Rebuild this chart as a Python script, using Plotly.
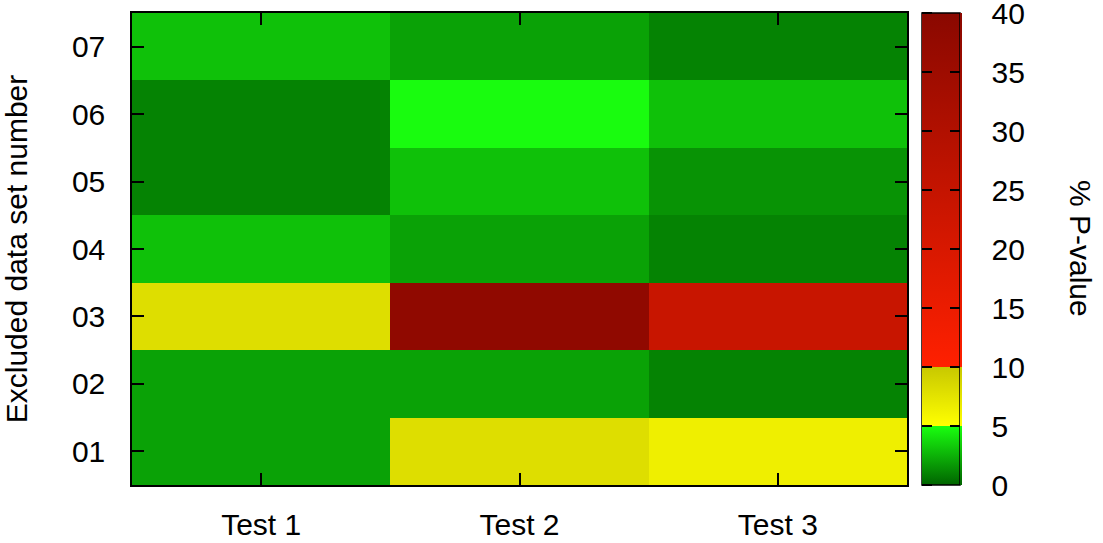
import plotly.graph_objects as go

tests = ["Test 1", "Test 2", "Test 3"]
datasets = ["01", "02", "03", "04", "05", "06", "07"]
# P-values (%) per dataset row, columns Test 1..3
pvalues = [
    [2.0, 8.0, 6.5],   # 01
    [2.0, 2.0, 1.0],   # 02
    [8.0, 38.5, 24.0], # 03
    [3.0, 2.0, 1.0],   # 04
    [1.0, 3.0, 1.5],   # 05
    [1.0, 4.9, 3.0],   # 06
    [3.0, 2.0, 1.0],   # 07
]
cb_ticks = [0, 5, 10, 15, 20, 25, 30, 35, 40]

colorscale = [
    [0.0, "rgb(0,100,0)"],
    [0.125, "rgb(25,255,15)"],
    [0.125, "rgb(255,255,0)"],
    [0.25, "rgb(200,200,0)"],
    [0.25, "rgb(255,32,0)"],
    [1.0, "rgb(138,8,0)"],
]

font = "Liberation Sans, Arial, Helvetica, sans-serif"
FS = 30
ZMAX = 40

CB_LEFT = 1.0194
CB_RIGHT = 1.0684

cb_common = dict(
    xanchor="left", xref="paper", xpad=0,
    y=0.5, yanchor="middle", len=1.0, lenmode="fraction", ypad=0,
    thicknessmode="pixels",
    tickvals=cb_ticks, ticklabeloverflow="allow",
    tickfont=dict(family=font, size=FS, color="black"),
)

fig = go.Figure()
# main colour bar with inward ticks on its right edge
fig.add_trace(go.Heatmap(
    x=tests, y=datasets, z=pvalues,
    zmin=0, zmax=ZMAX, colorscale=colorscale,
    colorbar=dict(**cb_common, x=CB_LEFT, thickness=38,
                  outlinecolor="black", outlinewidth=1.5,
                  ticks="inside", ticklen=10, tickwidth=1.5, tickcolor="black",
                  showticklabels=False),
))
# zero-width bar on the left edge: inward ticks on the left side
fig.add_trace(go.Heatmap(
    x=tests, y=datasets, z=pvalues,
    zmin=0, zmax=ZMAX, colorscale=colorscale, hoverinfo="skip",
    colorbar=dict(**cb_common, x=CB_LEFT, thickness=0, outlinewidth=0,
                  ticks="outside", ticklen=10, tickwidth=1.5, tickcolor="black",
                  showticklabels=False),
))
# zero-width bar on the right edge carrying the tick labels
fig.add_trace(go.Heatmap(
    x=tests, y=datasets, z=pvalues,
    zmin=0, zmax=ZMAX, colorscale=colorscale, hoverinfo="skip",
    colorbar=dict(**cb_common, x=CB_RIGHT, thickness=0, outlinewidth=0,
                  ticks="outside", ticklen=26, tickcolor="rgba(0,0,0,0)"),
))

fig.add_annotation(
    text="% P-value", xref="paper", yref="paper", x=1.2245, y=0.5,
    xanchor="center", yanchor="middle", showarrow=False, textangle=90,
    font=dict(family=font, size=FS, color="black"),
)

fig.update_layout(
    width=1103, height=543,
    margin=dict(l=132, r=196, t=13, b=58, autoexpand=False),
    paper_bgcolor="white", plot_bgcolor="white",
    font=dict(family=font, color="black"),
)
fig.update_xaxes(
    ticks="inside", ticklen=12, tickwidth=1.5, tickcolor="black",
    mirror="ticks", showline=True, linecolor="black", linewidth=1.5,
    tickfont=dict(family=font, size=FS, color="black"),
    ticklabelstandoff=12,
)
fig.update_yaxes(
    ticks="inside", ticklen=12, tickwidth=1.5, tickcolor="black",
    mirror="ticks", showline=True, linecolor="black", linewidth=1.5,
    tickfont=dict(family=font, size=FS, color="black"),
    ticklabelstandoff=19,
    title=dict(text="Excluded data set number", font=dict(family=font, size=FS, color="black"), standoff=36),
)

fig.write_html(
    "out.html",
    config={"displayModeBar": False},
    post_script="document.body.style.margin='0px';",
)
